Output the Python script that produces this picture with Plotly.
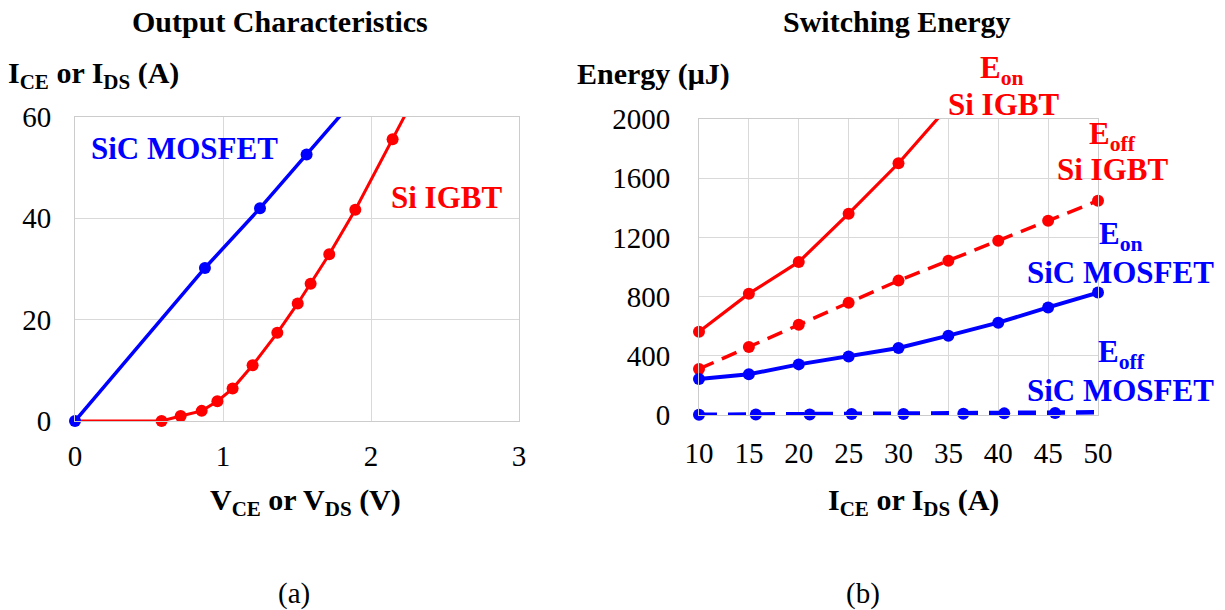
import plotly.graph_objects as go

W, H = 1225, 610
FONT = "Liberation Serif, Times New Roman, serif"
BLUE = "#0000FF"
RED = "#FF0000"
GRID = "#d9d9d9"

# ---------------- data: (a) output characteristics ----------------
sic_v = [0, 0.878, 1.25, 1.565, 1.90]
sic_i = [0, 30.2, 42.0, 52.6, 63.9]
igbt_v = [0, 0.585, 0.714, 0.856, 0.962, 1.065, 1.20, 1.367, 1.505, 1.592, 1.718, 1.894, 2.146, 2.26]
igbt_i = [0, 0, 1.0, 2.0, 3.9, 6.4, 11.0, 17.4, 23.2, 27.1, 32.9, 41.7, 55.6, 62.0]
igbt_marked = [False] + [True] * 12 + [False]
a_xticks = [0, 1, 2, 3]
a_yticks = [0, 20, 40, 60]

# ---------------- data: (b) switching energy ----------------
cur = [10, 15, 20, 25, 30, 35, 40, 45, 50]
eon_igbt_x = [10, 15, 20, 25, 30, 35]
eon_igbt = [563, 820, 1034, 1360, 1701, 2085]
eoff_igbt = [311, 459, 610, 759, 908, 1043, 1178, 1313, 1448]
eon_sic = [243, 275, 342, 396, 453, 536, 624, 727, 827]
eoff_sic_x = [10, 15.7, 21.1, 25.3, 30.5, 36.5, 40.6, 45.7, 50]
eoff_sic = [1, 3, 4, 6, 7, 9, 11, 13, 18]
eoff_sic_marked = [True] * 8 + [False]
b_xticks = [10, 15, 20, 25, 30, 35, 40, 45, 50]
b_yticks = [0, 400, 800, 1200, 1600, 2000]

fig = go.Figure()


def add_series(x, y, color, dash, width, xa, ya, ymax, marked=None):
    fig.add_trace(go.Scatter(x=x, y=y, mode="lines", xaxis=xa, yaxis=ya,
                             line=dict(color=color, width=width, dash=dash),
                             hoverinfo="skip", showlegend=False))
    if marked is None:
        marked = [True] * len(x)
    mx = [a for a, b, m in zip(x, y, marked) if m and b <= ymax]
    my = [b for a, b, m in zip(x, y, marked) if m and b <= ymax]
    fig.add_trace(go.Scatter(x=mx, y=my, mode="markers", xaxis=xa, yaxis=ya,
                             marker=dict(color=color, size=12), cliponaxis=False,
                             hoverinfo="skip", showlegend=False))


# (a)
add_series(igbt_v, igbt_i, RED, "solid", 3, "x", "y", 60, igbt_marked)
add_series(sic_v, sic_i, BLUE, "solid", 3.5, "x", "y", 60)
# (b)
add_series(eon_igbt_x, eon_igbt, RED, "solid", 3.2, "x2", "y2", 2000)
add_series(cur, eoff_igbt, RED, "16px,9px", 3.5, "x2", "y2", 2000)
add_series(cur, eon_sic, BLUE, "solid", 4, "x2", "y2", 2000)
add_series(eoff_sic_x, eoff_sic, BLUE, "18px,11px", 4.5, "x2", "y2", 2000, eoff_sic_marked)

tickfont = dict(family=FONT, size=29, color="black")
axcommon = dict(showgrid=True, gridcolor=GRID, gridwidth=1, zeroline=False,
                showline=True, linecolor="#cccccc", linewidth=1, mirror=True,
                ticks="", tickfont=tickfont, fixedrange=True, automargin=False)

fig.update_layout(
    width=W, height=H, margin=dict(l=0, r=0, t=0, b=0, autoexpand=False),
    paper_bgcolor="white", plot_bgcolor="white",
    xaxis=dict(domain=[75 / W, 519 / W], range=[0, 3], tickvals=a_xticks,
               ticklabelstandoff=9, anchor="y", **axcommon),
    yaxis=dict(domain=[1 - 421 / H, 1 - 117 / H], range=[0, 60], tickvals=a_yticks,
               ticklabelstandoff=17, anchor="x", **axcommon),
    xaxis2=dict(domain=[699 / W, 1098 / W], range=[10, 50], tickvals=b_xticks,
                ticklabelstandoff=12, anchor="y2", **axcommon),
    yaxis2=dict(domain=[1 - 415 / H, 1 - 119 / H], range=[0, 2000], tickvals=b_yticks,
                ticklabelstandoff=22, anchor="x2", **axcommon),
)


def label(text, px, py, color="black", size=30, bold=True, xanchor="center"):
    t = f"<b>{text}</b>" if bold else text
    fig.add_annotation(text=t, x=px / W, y=1 - py / H, xref="paper", yref="paper",
                       xanchor=xanchor, yanchor="middle", showarrow=False,
                       font=dict(family=FONT, size=size, color=color))


# (a) texts
label("Output Characteristics", 280, 22)
label("I<sub>CE</sub> or I<sub>DS</sub> (A)", 6, 75, xanchor="left")
label("SiC MOSFET", 184, 148, BLUE, 31)
label("Si IGBT", 446, 197, RED, 31)
label("V<sub>CE</sub> or V<sub>DS</sub> (V)", 305, 502)
label("(a)", 294, 593, bold=False, size=29)

# (b) texts
label("Switching Energy", 897, 22)
label("Energy (μJ)", 575, 74, xanchor="left")
label("E<sub>on</sub>", 1002, 70, RED, 31)
label("Si IGBT", 1003, 104, RED, 31)
label("E<sub>off</sub>", 1112, 136, RED, 31)
label("Si IGBT", 1112, 170, RED, 31)
label("E<sub>on</sub>", 1121, 236, BLUE, 31)
label("SiC MOSFET", 1120, 272, BLUE, 31)
label("E<sub>off</sub>", 1121, 354, BLUE, 31)
label("SiC MOSFET", 1120, 390, BLUE, 31)
label("I<sub>CE</sub> or I<sub>DS</sub> (A)", 913, 502)
label("(b)", 863, 593, bold=False, size=29)

fig.write_html("out.html")
